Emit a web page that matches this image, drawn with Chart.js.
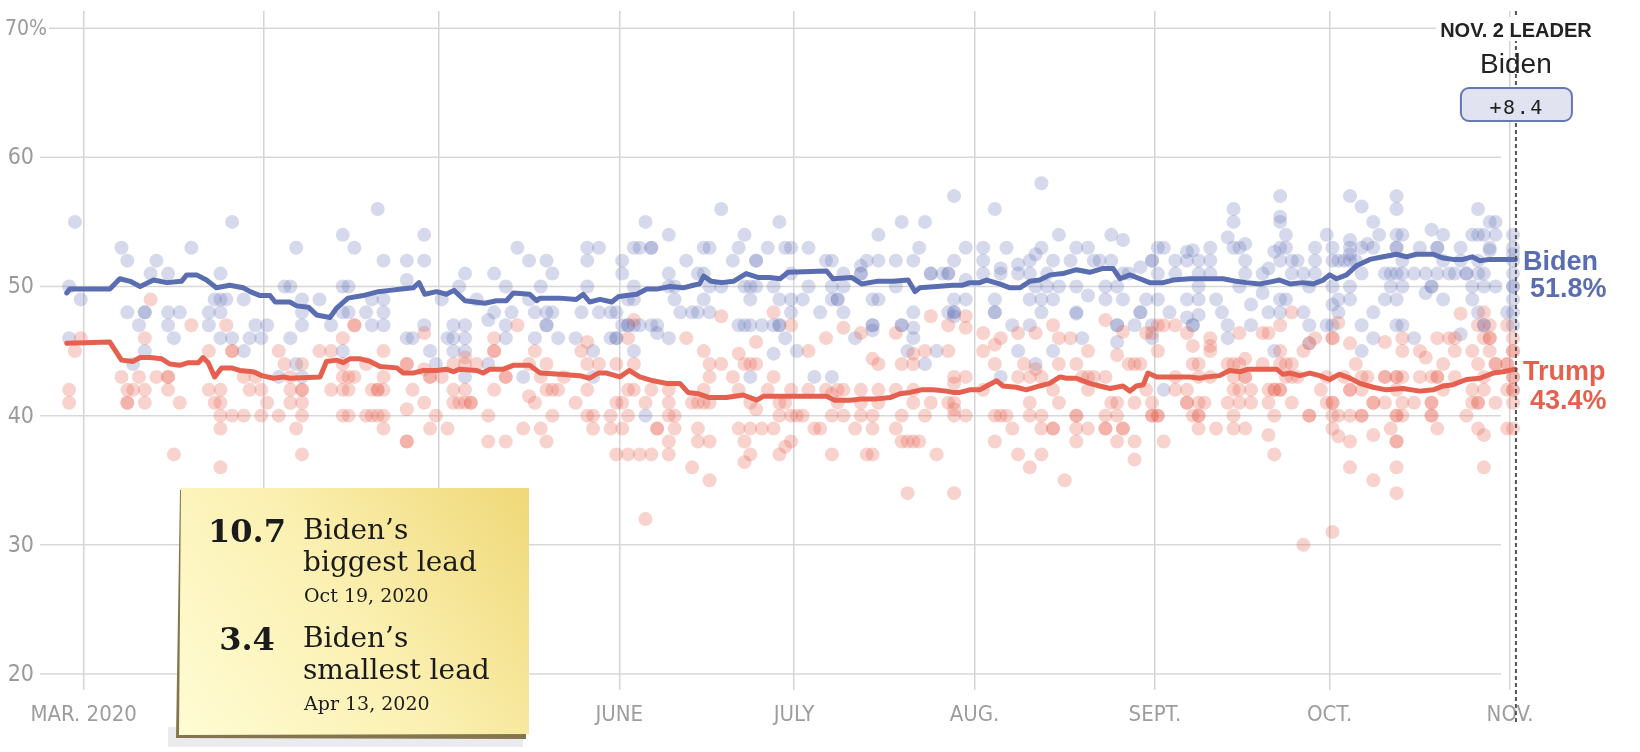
<!DOCTYPE html>
<html>
<head>
<meta charset="utf-8">
<script src="https://cdn.jsdelivr.net/npm/chart.js@4.4.1/dist/chart.umd.min.js"></script>
<style>
html,body{margin:0;padding:0;background:#fff;}
#wrap{width:1640px;height:752px;position:relative;}
canvas{display:block;}
</style>
</head>
<body>
<div id="wrap"><canvas id="c" width="1640" height="752"></canvas></div>
<script>
// ---- DATA (days counted from Mar 1, 2020 = 0) ----
const monthDays = [0, 31, 61, 92, 122, 153, 184, 214, 245];
const monthLabels = ['MAR. 2020', 'APR.', 'MAY', 'JUNE', 'JULY', 'AUG.', 'SEPT.', 'OCT.', 'NOV.'];
const yTickValues = [20, 30, 40, 50, 60, 70];
const yTickLabels = ['20', '30', '40', '50', '60', '70%'];

const bidenAvg = [[-2.9,49.5],[-2.4,49.8],[4.5,49.8],[6.2,50.6],[8.0,50.4],[9.7,50.0],[12.0,50.5],[14.3,50.3],[16.8,50.4],[17.7,50.9],[19.4,50.9],[21.1,50.5],[22.8,49.9],[25.1,50.1],[27.4,49.9],[28.6,49.6],[30.3,49.3],[32.0,49.3],[32.9,48.8],[35.4,48.8],[36.6,48.5],[38.6,48.4],[40.0,47.8],[42.3,47.6],[43.4,48.3],[45.4,49.1],[48.0,49.3],[50.6,49.6],[52.6,49.7],[54.6,49.8],[56.6,49.9],[57.6,50.3],[58.6,49.4],[60.6,49.6],[62.3,49.4],[63.6,49.7],[65.5,48.9],[67.2,48.8],[68.9,48.7],[70.9,48.9],[72.6,48.9],[73.8,49.5],[76.6,49.4],[77.8,48.9],[78.4,49.1],[81.8,49.1],[84.6,49.0],[85.8,49.4],[86.9,48.8],[88.7,49.0],[90.7,48.8],[91.8,49.2],[93.2,49.3],[95.0,49.4],[96.7,49.8],[98.4,49.8],[100.7,50.0],[103.0,49.9],[104.7,50.1],[105.8,50.2],[106.5,50.8],[107.8,50.4],[109.6,50.3],[111.6,50.4],[113.8,51.0],[115.8,50.7],[117.9,50.7],[119.6,50.6],[121.0,51.1],[127.6,51.2],[128.7,50.6],[131.9,50.7],[133.6,50.2],[136.2,50.4],[139.0,50.4],[141.6,50.5],[142.8,49.6],[143.6,49.9],[146.5,50.0],[149.3,50.1],[151.0,50.1],[152.2,50.3],[153.9,50.3],[155.1,50.5],[157.3,50.2],[159.1,49.9],[160.8,49.9],[162.5,50.4],[164.2,50.5],[166.0,50.9],[168.2,51.0],[170.5,51.3],[172.8,51.1],[175.1,51.4],[176.8,51.4],[178.0,50.6],[179.7,50.9],[181.4,50.6],[183.1,50.3],[185.4,50.3],[187.1,50.5],[190.0,50.6],[192.8,50.6],[195.7,50.6],[198.0,50.4],[199.7,50.3],[202.0,50.2],[204.3,50.4],[205.4,50.5],[207.2,50.2],[209.4,50.3],[211.2,50.2],[212.9,50.5],[214.0,50.9],[215.2,50.6],[216.9,50.9],[218.6,51.6],[220.9,52.1],[223.2,52.3],[225.5,52.5],[227.2,52.3],[228.9,52.5],[231.8,52.5],[233.5,52.2],[235.2,52.1],[236.9,52.1],[238.5,52.3],[239.8,52.0],[241.5,52.1],[243.8,52.1],[245.9,52.1]];

const trumpAvg = [[-2.9,45.6],[4.5,45.7],[6.5,44.3],[8.5,44.2],[9.7,44.5],[11.4,44.5],[13.4,44.4],[14.8,44.0],[16.5,43.9],[18.0,44.1],[19.7,44.1],[20.5,44.5],[21.4,44.1],[22.5,43.0],[23.7,43.7],[25.4,43.7],[26.8,43.5],[29.1,43.4],[30.6,43.1],[32.6,42.9],[34.3,43.0],[35.4,42.9],[40.6,43.0],[41.7,44.2],[43.4,44.3],[44.6,44.1],[45.7,44.4],[47.5,44.4],[49.2,44.2],[50.9,43.8],[53.8,43.7],[54.9,43.3],[56.6,43.3],[58.3,43.5],[60.6,43.5],[62.3,43.6],[63.5,43.4],[64.6,43.6],[67.5,43.5],[68.6,43.3],[69.8,43.6],[72.1,43.6],[73.8,43.9],[76.6,43.9],[78.4,43.3],[81.8,43.2],[85.2,43.1],[86.9,42.9],[88.4,43.3],[89.8,43.3],[92.1,43.0],[93.7,43.5],[95.5,43.0],[97.8,42.7],[100.1,42.5],[102.4,42.5],[103.8,41.8],[105.5,41.7],[107.5,41.4],[110.4,41.4],[113.3,41.6],[115.6,41.2],[116.7,41.5],[119.6,41.5],[121.3,41.5],[127.6,41.5],[129.0,41.2],[131.6,41.2],[133.9,41.3],[136.2,41.3],[138.5,41.4],[140.2,41.7],[141.9,41.8],[143.9,42.0],[145.9,42.0],[148.2,41.9],[149.3,41.8],[150.5,41.8],[152.2,42.0],[153.9,42.0],[155.1,42.3],[156.8,42.7],[157.9,42.3],[160.2,42.2],[161.9,42.0],[164.2,42.3],[165.9,42.5],[167.7,43.0],[168.8,42.9],[170.5,42.9],[172.8,42.5],[174.5,42.3],[176.3,42.1],[178.5,42.3],[179.7,41.9],[180.8,42.3],[182.0,42.4],[182.8,43.3],[184.3,43.0],[187.1,43.0],[190.0,43.0],[191.7,42.9],[192.8,43.0],[195.1,43.1],[196.8,43.5],[198.6,43.4],[200.0,43.6],[202.0,43.6],[204.9,43.6],[206.0,43.2],[207.2,43.3],[208.9,43.1],[210.6,43.3],[212.3,43.1],[214.0,42.8],[215.7,43.2],[217.5,42.9],[219.2,42.5],[221.5,42.2],[223.7,42.0],[226.6,42.1],[229.5,41.9],[231.8,42.0],[233.5,42.3],[235.2,42.4],[237.5,42.8],[239.8,42.9],[242.1,43.3],[243.8,43.4],[245.9,43.6]];

// individual polls: [day, share]
const bidenPolls = [[-2,55],[-3,50],[-1,49],[-3,46],[6,53],[7,52],[12,52],[11,51],[14,51],[18,53],[25,55],[23,51],[7,48],[10,48],[10,48],[9,47],[14,48],[16,48],[14,47],[15,46],[10,45],[8,44],[21,48],[23,48],[22,49],[23,49],[24,49],[27,49],[21,47],[23,46],[25,46],[28,46],[30,46],[29,47],[31,47],[27,45],[34,50],[35,50],[35,46],[33,43],
[36,53],[37,49],[40,49],[37,48],[37,47],[36,44],[37,43],[44,54],[46,53],[50,56],[51,52],[44,50],[45,50],[44,48],[45,48],[48,48],[49,49],[51,49],[51,48],[49,47],[51,47],[42,47],[44,45],[55,52],[55,50.5],[58,54],[58,52],[58,47],[55,46],[56,46],[59,45],[60,44],[61,49],[63,47],[65,47],[62,46],[63,46],[65,46],[63,45],[65,45],[64,50],[65,51],[67,49],[69,44],[65,43],[70,51],[72,50],[74,53],[76,52],[70,48],[69,47.4],[73,48],[72,47],[72,46],[75,43],[77,48],[77,46],[78,50],[76,49],
[79,52],[80,51],[79,48],[80,48],[79,47],[79,47],[81,46],[84,46],[86,53],[88,53],[86,52],[86,50],[85,48],[88,48],[90,48],[91,48],[92,52],[92,51],[90,46],[91,46],[91,46],[87,45],[87,43],[94,45],[92,47],[93,47],[93,47],[94,47],[95,47],[97,47],[98,47],[98,46.4],[94,49],[93,49],[94,50],[96,55],[94,53],[95,53],[97,53],[97,53],[100,54],[100,51],[100,50],[101,50],[101,49],[100,46],[102,48],[103,52],[104,48],[105,48],[106,53],[107,53],[105,51],[106,51],[107,50],[109,50],[106,49],[107,48],[109,56],[111,52],[112,53],[113,54],[115,52],[115,52],[117,53],[119,55],[120,53],[121,53],[113,50],[114,50],[115,50],[114,49],[118,50],[119,49],[121,48],[112,47],[113,47],[114,47],[116,47],[118,47],[119,47],[119,47],[120,46],[118,44.8],[114,43],[96,40],
[121,51],[121,49],[122,45],[124,53],[124,50],[123,49],[127,52],[128,52],[130,51],[128,50],[130,50],[128,49],[129,49],[129,49],[126,48],[130,48],[132,46],[125,43],[128,43],[133,51.6],[134,52],[133,51],[133,51],[136,54],[136,52],[135,49],[136,49],[135,47],[135,47],[135,46.6],[139,52],[139,50],[140,55],[142,52],[143,53],[144,55],[140,47],[140,47],[142,48],[142,46.8],[142,46],[141,45],[144,44],[145,51],[145,51],[147,51],[148,51],[148,51],[149,57],[149,52],[151,53],[151,50.5],[149,49],[151,49],[148,48],[149,48],[149,48],[149,47.7],[146,45],[154,53],[154,52],[154,51],[156,56],[158,53],[157,51.4],[157,51],[156,49],[156,48],[156,48],[159,47],[160,51.7],[160,51],[162,52],[163,52.5],[164,58],[162,51],[163,50],[162,49],[164,49],[162,47],[160,45],[163,44],[157,43],
[164,53],[164,48],[165,51],[165,50],[166,52],[166,49],[166,45],[167,54],[167,50],[169,52],[170,53],[170,50],[170,48],[170,47.9],[171,46],[172,53],[172,49.3],[173,52],[174,52],[175,49],[175,50],[176,54],[176,52],[178,53.6],[178,51],[178,49],[177,50],[177,47],[177,47],[177,45.7],[179,51],[180,47],[181,48],[181,48],[181,51.5],[182,49],[183,52],[183,52],[184,53],[185,53],[184,51],[184,49],[183,46],[183,47],[185,42],[186,48],[187,52],[187,51],[189,52.7],[189,52],[190,52.8],[189,49],[189,47.6],[190,47],[190,47],[191,52],[191,51],[191,50],[191,49],[191,47.8],[193,53],[193,52],[193,51],[194,49],[195,48],[196,47],[196,46],[196,53.8],[197,56],[197,55],[197,53],[198,53],[199,53.3],[199,52],[199,51],[198,50],[200,48.6],[200,47],[202,51],[202,49.5],[203,51.4],[203,48],[204,52.7],[205,53],[205,52],[205,57],[205,55.4],[205,55],[206,53],[206,54],[205,49],[206,49],[205,48],[204,45],
[207,52],[207,51],[209,48],[208,52],[209,51],[210,50],[210,47],[211,53],[211,52],[211,51],[210,45.6],[213,54],[214,53],[214,52],[214,50],[214,48.6],[215,49],[215,48],[213,47],[214,47],[215,52],[216,52],[217,57],[217,53.6],[217,53],[217,52.5],[217,52],[217,50],[217,49],[219,56.2],[219,53],[218,52],[219,51],[219,47],[219,45],[220,53.3],[221,55],[221,53],[221,48],[221,46],[222,54],[223,51],[224,51],[223,49],[225,57],[225,56],[225,54],[225,53],[225,53],[225,51],[225,49],[226,54],[226,52],[226,51],[226,50],[224,50],[225,47],[226,47],[228,46],[228,51],[229,53],[230,51],[230,49.5],[231,54.4],[231,50],[231,50],[232,53],[232,53],[232,51],[233,54],[233,52],[233,49],[234,51],[235,51],[236,53],[236,52],[236,46.3],[237,51],[237,51],[238,54],[238,50],[238,49],[239,56],[239,54],[239,52],[239,51],[240,54],[240,51],[240,50],[240,47],[240,47],[241,55],[241,52.8],[242,55],[242,54],[242,50],[241,53],[239,48],[245,54],[245,53],[245,52],[245,51],[245,50],[245,50],[245,49],[245,48],[244,48],[245,52.5],[245,47]];

const trumpPolls = [[-1,46],[-2,45],[-3,42],[-3,41],[11,49],[10,46],[6,43],[9,43],[12,43],[14,43],[14,43],[7,42],[8,42],[10,42],[7,41],[7,41],[10,41],[14,42],[16,41],[18,47],[15,37],[21,45],[24,47],[25,45],[25,45],[21,42],[23,42],[22,41],[23,41],[23,40],[25,40],[27,40],[23,39],[23,36],[27,43],[29,43],[28,42],[30,42],[31,41],[30,40],[33,40],[33,45],[34,44],[35,42],
[37,44],[35,43],[37,42],[37,42],[35,41],[37,41],[37,40],[36,39],[37,37],[40,45],[42,45],[44,46],[46,47],[46,47],[44,44],[44,43],[45,43],[46,43],[42,42],[44,42],[45,42],[48,44],[49,42],[50,42],[50,42],[51,42],[51,43],[51,45],[44,40],[45,40],[48,40],[49,40],[50,40],[51,40],[51,39],[55,44],[55,44],[55,40.5],[55,38],[55,38],[56,42],[58,46.4],[58,43.6],[59,43],[59,43],[58,41],[60,40],[59,39],[61,43],[62,39],[63,44],[65,44.5],[65,44],[67,44],[63,42],[65,42],[63,41],[64,41],[65,41],[66,41],[66,41],[70,46],[70,45],[70,45],[72,43],[72,43],[70,42],[69,40],[69,38],[72,38],[74,47],[77,45],[76,44],[75,39],[76,41.5],[77,41],[78,39],
[79,44],[78,43],[79,42],[80,42],[81,42],[80,40],[79,38],[82,43],[84,41],[85,45],[86,45.7],[86,44],[88,44],[86,42],[86,40],[87,40],[87,39],[90,40],[90,39],[91,44],[92,41],[91,41],[93,46],[94,47.4],[94,44],[93,42],[94,42],[93,40],[92,39],[91,37],[93,37],[95,37],[97,37],[96,41],[97,42],[98,39],[98,39],[100,42],[100,41],[100,40],[101,40],[101,39],[100,38],[100,37],[103,46],[104,41],[105,41],[106,41],[107,41],[106,42],[107,43],[107,44],[106,45],[109,44],[109,47.7],[105,39],[105,38],[107,38],[104,36],[107,35],[111,43],[112,42],[112,44.8],[113,44],[114,44],[115,44],[115,45.7],[114,41],[115,40.5],[112,39],[114,39],[116,39],[118,39],[113,38],[114,37],[113,36.4],[117,42],[118,43],[118,48],[119,41],[120,41],[119,40],[120,37.6],[119,37],[121,47],[96,32],
[121,42],[121,40],[122,40],[123,40],[121,38],[124,45],[124,42],[127,46],[127,42],[128,41.7],[128,40],[129,42],[130,42],[129,41],[130,46.8],[125,39],[126,39],[128,37],[130,40],[132,39],[133,46.4],[133,42],[133,41],[133,40],[134,37],[135,37],[135,40],[135,39],[135,44.4],[136,44],[136,42],[136,41],[139,46.4],[139,42],[139,39],[140,44],[140,40],[140,38],[141,38],[142,38],[143,38],[141,34],[142,44.8],[142,44],[142,42],[142,41],[144,45],[144,40],[145,47.7],[145,41],[146,37],[148,47],[148,45],[149,43],[149,42.5],[148,41],[149,41],[149,40.5],[149,40],[151,40],[151,43],[151,47.7],[151,46.8],[149,34],[154,46.4],[154,45],[156,45.5],[157,46],[156,44],[154,42],[156,40],[157,40],[158,40],[159,39],[156,38],[160,46.4],[160,43],[161,44],[162,43],[163,46.4],[163,43.6],[162,41],[162,40],[164,40],[164,39],[160,37],[162,36],[164,37],
[164,43],[166,47],[166,42],[166,39],[166,39],[167,46],[167,44],[167,41],[168,35],[169,46],[170,44],[170,40],[170,40],[170,39],[170,38],[171,43],[172,45],[172,43],[172,42],[172,39],[173,43],[175,47.4],[175,43],[175,40],[175,39],[175,39],[176,41],[177,44.7],[177,41],[177,40],[177,38],[178,46.5],[178,39],[178,39],[179,44],[180,44],[181,44],[180,41],[180,38],[180,36.6],[182,46.4],[183,46.4],[182,42],[183,41],[183,40],[183,40],[184,40],[184,40],[184,47],[185,47],[184,45],[185,38],[187,47],[187,43],[187,42],[189,46.4],[189,42],[189,41],[189,41],[190,44],[190,45.4],[190,40],[191,44],[191,43],[191,41],[191,40],[191,40],[191,39],[192,41],[193,46],[193,45.4],[193,45],[193,43],[194,39],[196,44],[196,41],[197,44],[197,43],[197,42],[197,40],[197,39],[198,46.4],[198,44],[198,42],[198,41],[199,43],[199,43],[199,39],[199,44.4],[200,42],[200,41],[202,46.4],[202,44],[203,42],[203,41],[203,46.4],[203,38.5],[204,42],[204,42],[204,40],[204,37],[205,47],[205,44],[205,42],[205,42],[205,45],[206,44],[206,43],
[207,48],[207,44],[207,43],[207,41],[208,43],[209,45],[210,45.6],[210,40],[210,40],[211,46],[212,42],[213,41],[213,43],[214,46],[214,46],[214,41],[214,41],[214,40],[214,39],[214,31],[215,47.2],[215,40],[215,38.4],[216,43],[217,45.6],[217,42],[217,42],[217,40],[217,38],[217,36],[218,44],[219,43],[219,42],[219,40],[219,40],[220,43],[221,41],[221,41],[221,38.5],[221,35],[223,45.7],[223,43],[223,43],[223,41],[224,39],[225,43],[225,43],[225,42],[225,40],[225,40],[225,38],[225,38],[225,36],[225,34],[226,46],[226,45],[226,43],[226,41],[226,40],[228,41],[229,45],[230,44.5],[229,43],[231,43],[231,41],[231,41],[231,40],[231,40],[232,46],[232,43],[232,43],[232,39],[233,44],[233,42],[234,46],[235,46],[235,43],[235,45],[236,47.9],[237,40],[238,45],[238,42],[238,41],[239,47],[239,44],[239,41],[239,41],[239,39],[240,48],[240,46],[240,43],[240,42],[240,38.5],[240,36],[241,47],[241,46],[241,46],[241,45],[242,44],[242,44],[242,41],[244,47],[244,44],[244,44],[244,42],[244,39],[245,46],[245,45],[245,43],[245,42],[245,42],[245,41],[245,45],[245,39],[245,43],[209,30]];

const finalDay = 246;          // Nov. 2
const bidenFinal = 51.8;
const trumpFinal = 43.4;
const leaderName = 'Biden';
const leadNotes = [
  {value: '10.7', line1: 'Biden\u2019s', line2: 'biggest lead', date: 'Oct 19, 2020'},
  {value: '3.4', line1: 'Biden\u2019s', line2: 'smallest lead', date: 'Apr 13, 2020'}
];

// ---- STYLE ----
const BLUE = '#5b6db1';
const RED = '#e5604e';
const NARROW = "'Liberation Sans Narrow', 'DejaVu Sans Condensed', 'Arial Narrow', sans-serif";
const SANS = "'Liberation Sans', Arial, sans-serif";
const SERIF = "'DejaVu Serif', 'Liberation Serif', serif";

const toPts = arr => arr.map(p => ({x: p[0], y: p[1]}));
const toNoon = arr => arr.map(p => ({x: p[0] + 0.5, y: p[1]}));

const overlay = {
  id: 'overlay',
  beforeDatasetsDraw(chart) {
    const {ctx, scales: {x, y}} = chart;
    ctx.save();
    ctx.strokeStyle = '#d7d7d7';
    ctx.lineWidth = 1.5;
    yTickValues.forEach((v, i) => {
      const py = y.getPixelForValue(v);
      ctx.beginPath();
      ctx.moveTo(i === yTickValues.length - 1 ? 49 : 40, py);
      ctx.lineTo(1501, py);
      ctx.stroke();
    });
    ctx.fillStyle = '#9a9a9a';
    ctx.textBaseline = 'middle';
    ctx.textAlign = 'right';
    yTickValues.forEach((v, i) => {
      const py = y.getPixelForValue(v);
      const lbl = yTickLabels[i];
      const pct = lbl.endsWith('%');
      ctx.font = (pct ? '21px ' : '23px ') + NARROW;
      ctx.fillText(lbl, pct ? 47 : 34, py + 1);
    });
    ctx.restore();
  },
  afterDatasetsDraw(chart) {
    const {ctx, scales: {x, y}} = chart;
    const fx = x.getPixelForValue(finalDay);
    ctx.save();
    // dotted "today" line
    ctx.strokeStyle = '#555';
    ctx.lineWidth = 2;
    ctx.setLineDash([4, 3]);
    ctx.beginPath();
    ctx.moveTo(fx, 11);
    ctx.lineTo(fx, 724);
    ctx.stroke();
    ctx.setLineDash([]);

    // leader block
    ctx.font = 'bold 20px ' + SANS;
    const t1 = 'NOV. 2 LEADER';
    const w1 = ctx.measureText(t1).width;
    ctx.fillStyle = '#fff';
    ctx.fillRect(fx - w1 / 2 - 4, 17, w1 + 8, 24);
    ctx.fillStyle = '#222';
    ctx.textAlign = 'center';
    ctx.textBaseline = 'alphabetic';
    ctx.fillText(t1, fx, 37);
    ctx.font = '28px ' + SANS;
    ctx.fillText(leaderName, fx, 73);

    // margin pill
    const bx = fx - 55, by = 88, bw = 111, bh = 33;
    ctx.beginPath();
    ctx.roundRect(bx, by, bw, bh, 8);
    ctx.fillStyle = '#e1e4f0';
    ctx.fill();
    ctx.lineWidth = 2;
    ctx.strokeStyle = '#6677b9';
    ctx.stroke();
    const margin = '+' + (bidenFinal - trumpFinal).toFixed(1);
    ctx.fillStyle = '#222';
    ctx.font = '20px "DejaVu Sans Mono", "Liberation Mono", monospace';
    for (let i = 0; i < margin.length; i++) {
      ctx.fillText(margin[i], fx + (i - (margin.length - 1) / 2) * 13.6, 114);
    }

    // end labels
    const bEnd = bidenAvg[bidenAvg.length - 1][1];
    const tEnd = trumpAvg[trumpAvg.length - 1][1];
    const by1 = y.getPixelForValue(bEnd);
    const ty1 = y.getPixelForValue(tEnd);
    ctx.textAlign = 'left';
    ctx.font = 'bold 27px ' + SANS;
    ctx.fillStyle = BLUE;
    ctx.fillText('Biden', fx + 7, by1 + 11);
    ctx.fillText(bidenFinal.toFixed(1) + '%', fx + 14, by1 + 38);
    ctx.fillStyle = RED;
    ctx.fillText('Trump', fx + 7, ty1 + 11);
    ctx.fillText(trumpFinal.toFixed(1) + '%', fx + 14, ty1 + 40);
    ctx.restore();
  },
  afterDraw(chart) {
    const ctx = chart.ctx;
    ctx.save();
    // backdrop shadow
    ctx.fillStyle = '#ebebef';
    ctx.fillRect(168, 727, 355, 20);
    // paper underside
    ctx.fillStyle = '#83764f';
    ctx.beginPath();
    ctx.moveTo(180, 490); ctx.lineTo(528, 490); ctx.lineTo(526, 739); ctx.lineTo(176, 738);
    ctx.closePath(); ctx.fill();
    // paper face
    const g = ctx.createLinearGradient(181, 735, 529, 488);
    g.addColorStop(0, '#fffcd4');
    g.addColorStop(0.5, '#fbf0b1');
    g.addColorStop(1, '#efd877');
    ctx.fillStyle = g;
    ctx.beginPath();
    ctx.moveTo(181, 488); ctx.lineTo(529, 488); ctx.lineTo(529, 734); ctx.lineTo(179, 735);
    ctx.closePath(); ctx.fill();

    ctx.fillStyle = '#1b1b1b';
    ctx.textBaseline = 'alphabetic';
    const rows = [542, 650];
    leadNotes.forEach((n, i) => {
      const b = rows[i];
      ctx.font = 'bold 32px ' + SERIF;
      ctx.textAlign = 'center';
      ctx.fillText(n.value, 247, b);
      ctx.textAlign = 'left';
      ctx.font = '28px ' + SERIF;
      ctx.fillText(n.line1, 303, b - 3);
      ctx.fillText(n.line2, 303, b + 29);
      ctx.font = '19px ' + SERIF;
      ctx.fillText(n.date, 304, b + 60);
    });
    ctx.restore();
  }
};

new Chart(document.getElementById('c'), {
  type: 'scatter',
  data: {
    datasets: [
      {label: 'Biden average', data: toPts(bidenAvg), showLine: true, borderColor: BLUE, borderWidth: 5,
       pointRadius: 0, tension: 0, borderJoinStyle: 'round', borderCapStyle: 'round', order: 0},
      {label: 'Trump average', data: toPts(trumpAvg), showLine: true, borderColor: RED, borderWidth: 5,
       pointRadius: 0, tension: 0, borderJoinStyle: 'round', borderCapStyle: 'round', order: 0},
      {label: 'Biden polls', data: toNoon(bidenPolls), backgroundColor: 'rgba(92,110,178,0.26)',
       borderWidth: 0, pointRadius: 7, order: 2},
      {label: 'Trump polls', data: toNoon(trumpPolls), backgroundColor: 'rgba(229,96,78,0.28)',
       borderWidth: 0, pointRadius: 7, order: 1}
    ]
  },
  options: {
    responsive: false,
    animation: false,
    events: [],
    devicePixelRatio: 1,
    layout: {padding: {left: 40, right: 120, top: 11, bottom: 0}},
    plugins: {legend: {display: false}, tooltip: {enabled: false}},
    scales: {
      x: {
        type: 'linear',
        min: -7.5,
        max: 246.7,
        afterBuildTicks: s => { s.ticks = monthDays.map(v => ({value: v})); },
        afterFit: s => { s.height = 78; },
        grid: {color: '#d4d4d4', lineWidth: 1.5, tickLength: 16, drawOnChartArea: true},
        border: {display: false},
        ticks: {
          autoSkip: false, maxRotation: 0, padding: 12,
          color: '#9d9d9d',
          font: {family: NARROW, size: 22},
          callback: (v, i) => monthLabels[i]
        }
      },
      y: {
        type: 'linear',
        display: false,
        min: 20,
        max: 71.33
      }
    }
  },
  plugins: [overlay]
});
</script>
</body>
</html>
